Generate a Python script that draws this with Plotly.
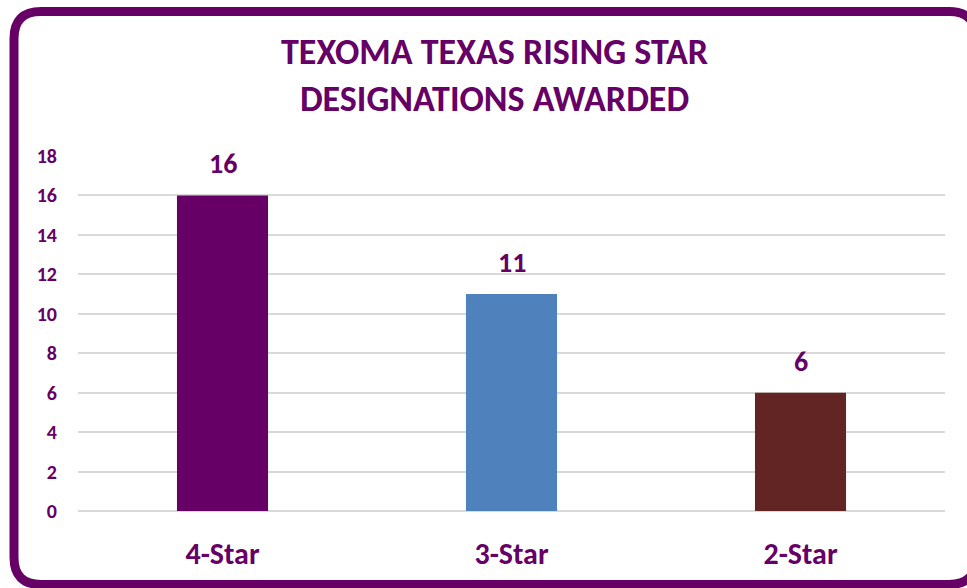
import plotly.graph_objects as go

categories = ["4-Star", "3-Star", "2-Star"]
values = [16, 11, 6]
bar_colors = ["#660066", "#4F81BD", "#632523"]
title_lines = ["TEXOMA TEXAS RISING STAR", "DESIGNATIONS AWARDED"]
y_ticks = [0, 2, 4, 6, 8, 10, 12, 14, 16, 18]

PURPLE = "#660066"
FONT = "Calibri, Carlito, Lato, 'Open Sans', sans-serif"

W, H = 967, 588
L, R, T, B = 78, 22, 156, 77
pw, ph = W - L - R, H - T - B

fig = go.Figure()
fig.add_trace(go.Bar(
    x=categories, y=values, marker_color=bar_colors, width=0.315,
    marker_line_width=0, hoverinfo="x+y",
))

for c, v in zip(categories, values):
    fig.add_annotation(x=c, y=v, text=str(v), showarrow=False,
                       yanchor="bottom", yshift=12,
                       font=dict(size=28, color=PURPLE, family=FONT, weight="bold"))

# rounded border in paper coordinates
def px(x):
    return (x - L) / pw

def py(y):
    return (H - B - y) / ph

xl, xr, yt, yb, r = 14, 976, 11.5, 584.5, 27
path = (
    f"M {px(xl)},{py(yt + r)} "
    f"Q {px(xl)},{py(yt)} {px(xl + r)},{py(yt)} "
    f"L {px(xr - r)},{py(yt)} "
    f"Q {px(xr)},{py(yt)} {px(xr)},{py(yt + r)} "
    f"L {px(xr)},{py(yb - r)} "
    f"Q {px(xr)},{py(yb)} {px(xr - r)},{py(yb)} "
    f"L {px(xl + r)},{py(yb)} "
    f"Q {px(xl)},{py(yb)} {px(xl)},{py(yb - r)} Z"
)
fig.add_shape(type="path", path=path, xref="paper", yref="paper",
              line=dict(color=PURPLE, width=9), layer="above")

fig.update_layout(
    width=W, height=H,
    margin=dict(l=L, r=R, t=T, b=B),
    paper_bgcolor="white", plot_bgcolor="white",
    showlegend=False,
    title=dict(text="<br>".join(title_lines),
               x=494.5 / W, xanchor="center", y=1 - 64 / H, yanchor="top",
               font=dict(size=36, color=PURPLE, family=FONT, weight="bold")),
)
fig.update_xaxes(
    showline=False, showgrid=False, ticks="",
    tickfont=dict(size=30, color=PURPLE, family=FONT, weight="bold"),
    ticklabelstandoff=22,
)
fig.update_yaxes(
    range=[0, 18], tickvals=y_ticks, showline=False,
    showgrid=True, gridcolor="#D9D9D9", gridwidth=2, zeroline=True,
    zerolinecolor="#D9D9D9", zerolinewidth=2,
    tickfont=dict(size=20, color=PURPLE, family=FONT, weight="bold"),
    ticklabelstandoff=20,
)

fig.write_html("out.html", config={"displayModeBar": False},
               post_script="document.body.style.margin='0';document.body.style.overflow='hidden';")
